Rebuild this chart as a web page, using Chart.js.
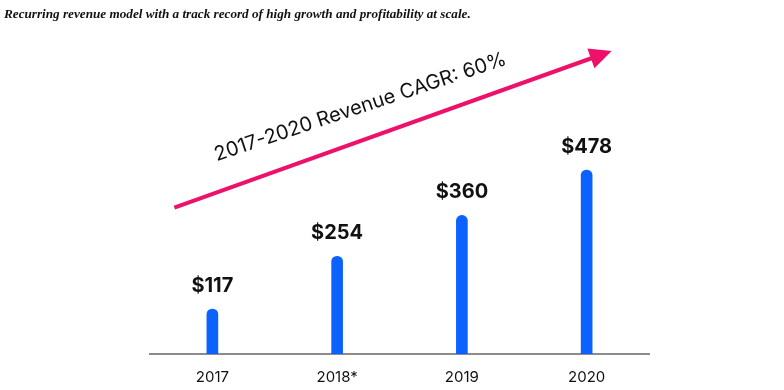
<!DOCTYPE html>
<html>
<head>
<meta charset="utf-8">
<script src="https://cdn.jsdelivr.net/npm/chart.js@4"></script>
<style>
  html, body { margin: 0; padding: 0; background: #fff; }
  #wrap { position: relative; width: 784px; height: 390px; }
  #title { position: absolute; left: 4px; top: 6px; font: italic bold 13.2px "Liberation Serif", serif; color: #111; white-space: nowrap; }
  canvas { position: absolute; left: 0; top: 0; }
</style>
</head>
<body>
<div id="wrap">
  <canvas id="c" width="784" height="390"></canvas>
  <div id="title">Recurring revenue model with a track record of high growth and profitability at scale.</div>
</div>
<script>
const categories = ['2017', '2018*', '2019', '2020'];
const revenue = [117, 254, 360, 478];
const cagrLabel = '2017-2020 Revenue CAGR: 60%';
const arrowFromValue = 380;
const arrowToValue = 787;

const valueLabels = {
  id: 'valueLabels',
  afterDatasetsDraw(chart) {
    const ctx = chart.ctx;
    const meta = chart.getDatasetMeta(0);
    ctx.save();
    ctx.fillStyle = '#111';
    ctx.font = '700 20px Inter, "Liberation Sans", sans-serif';
    ctx.textAlign = 'center';
    ctx.textBaseline = 'middle';
    meta.data.forEach((el, i) => {
      ctx.fillText('$' + revenue[i], el.x, el.y - 23);
    });
    ctx.restore();
  }
};

const cagrArrow = {
  id: 'cagrArrow',
  afterDatasetsDraw(chart) {
    const ctx = chart.ctx;
    const xs = chart.scales.x, ys = chart.scales.y;
    const x0 = xs.getPixelForValue(0) - 38, y0 = ys.getPixelForValue(arrowFromValue);
    const x1 = xs.getPixelForValue(categories.length - 1) + 25, y1 = ys.getPixelForValue(arrowToValue);
    const dx = x1 - x0, dy = y1 - y0, len = Math.hypot(dx, dy);
    const ux = dx / len, uy = dy / len;
    const px = uy, py = -ux; // perpendicular pointing up
    const headLen = 22, headHalf = 10.5;
    const bx = x1 - ux * headLen, by = y1 - uy * headLen;
    ctx.save();
    ctx.strokeStyle = '#ee1169';
    ctx.fillStyle = '#ee1169';
    ctx.lineWidth = 4;
    ctx.beginPath();
    ctx.moveTo(x0, y0);
    ctx.lineTo(bx + ux * 2, by + uy * 2);
    ctx.stroke();
    ctx.beginPath();
    ctx.moveTo(x1, y1);
    ctx.lineTo(bx + px * headHalf, by + py * headHalf);
    ctx.lineTo(bx - px * headHalf, by - py * headHalf);
    ctx.closePath();
    ctx.fill();
    const t = 0.45, off = 32;
    const cx = x0 + dx * t + px * off;
    const cy = y0 + dy * t + py * off;
    ctx.translate(cx, cy);
    ctx.rotate(Math.atan2(dy, dx) + 1.3 * Math.PI / 180);
    ctx.fillStyle = '#111';
    ctx.font = '400 20px Inter, "Liberation Sans", sans-serif';
    ctx.textAlign = 'center';
    ctx.textBaseline = 'middle';
    ctx.fillText(cagrLabel, 0, 0);
    ctx.restore();
  }
};

new Chart(document.getElementById('c'), {
  type: 'bar',
  data: {
    labels: categories,
    datasets: [{
      data: revenue,
      backgroundColor: '#0b62ff',
      barThickness: 11,
      borderRadius: { topLeft: 6, topRight: 6, bottomLeft: 0, bottomRight: 0 },
      borderSkipped: 'start'
    }]
  },
  options: {
    responsive: false,
    animation: false,
    layout: { padding: { left: 150, right: 135, top: 123, bottom: 4 } },
    plugins: { legend: { display: false }, tooltip: { enabled: false }, title: { display: false } },
    scales: {
      y: { display: false, min: 0, max: 600 },
      x: {
        grid: { display: false, drawTicks: false },
        border: { display: true, color: '#8c8c8c', width: 2 },
        ticks: { color: '#111', padding: 14, font: { family: 'Inter', size: 15 } },
        afterFit(scale) { scale.height = 32; }
      }
    }
  },
  plugins: [valueLabels, cagrArrow]
});
</script>
</body>
</html>
